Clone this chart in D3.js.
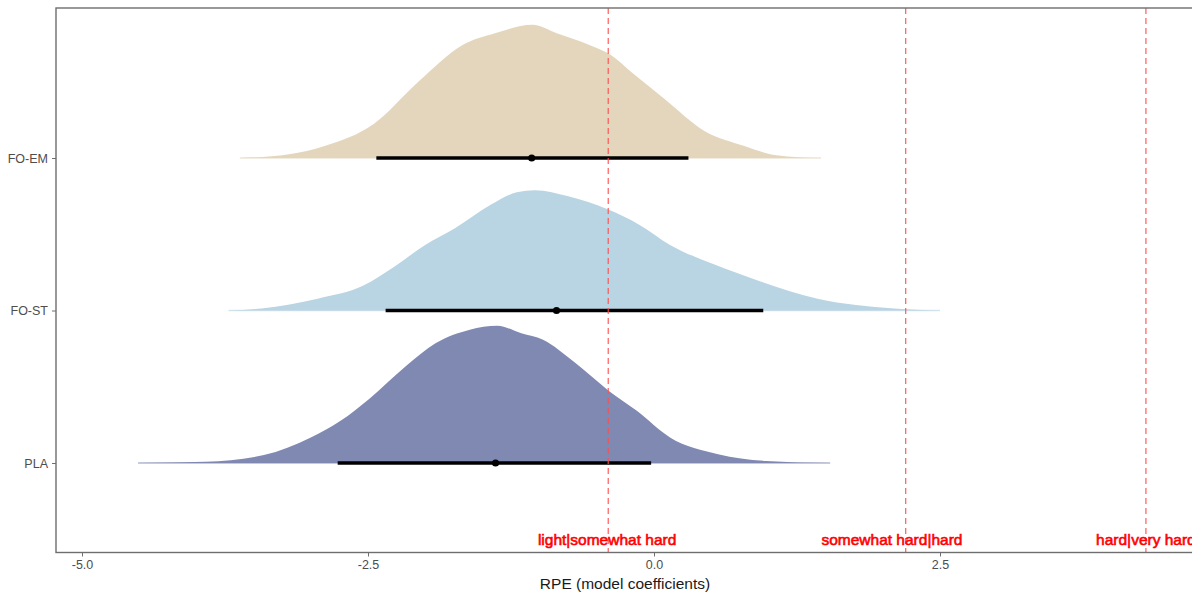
<!DOCTYPE html>
<html>
<head>
<meta charset="utf-8">
<script src="https://cdn.jsdelivr.net/npm/d3@7"></script>
<style>
  body { margin: 0; background: #fff; }
  svg { display: block; font-family: "Liberation Sans", Arial, sans-serif; }
</style>
</head>
<body>
<div id="vis"></div>
<script>
const frame_width = 1192;
const frame_height = 596;
const panel = {left: 56, right: 1194, top: 8, bottom: 552.5};

// groups, bottom to top
const groups = ["PLA", "FO-ST", "FO-EM"];
const fill_colors = ["#8089b1", "#b9d4e2", "#e3d6bc"];

// density outlines (x in model units, density scaled to max 1)
const pla_x = [-4.51, -3.92, -3.41, -3.0, -2.74, -2.49, -2.16, -1.91, -1.61, -1.37, -1.16, -0.97, -0.70, -0.40, -0.15, 0.14, 0.56, 0.98, 1.54];
const pla_d = [0, 0.009, 0.058, 0.186, 0.307, 0.467, 0.712, 0.872, 0.971, 1.0, 0.945, 0.898, 0.737, 0.529, 0.380, 0.186, 0.064, 0.015, 0];
const fost_x = [-3.72, -3.43, -2.94, -2.54, -2.27, -2.0, -1.74, -1.42, -1.2, -1.04, -0.75, -0.40, -0.13, 0.14, 0.54, 0.90, 1.43, 2.1, 2.5];
const fost_d = [0, 0.015, 0.086, 0.182, 0.319, 0.478, 0.599, 0.774, 0.861, 0.876, 0.832, 0.735, 0.625, 0.478, 0.331, 0.221, 0.086, 0.015, 0];
const foem_x = [-3.62, -3.19, -2.88, -2.45, -2.06, -1.67, -1.39, -1.06, -0.85, -0.57, -0.38, -0.18, 0.09, 0.44, 0.79, 1.07, 1.46];
const foem_d = [0, 0.027, 0.088, 0.248, 0.555, 0.825, 0.909, 0.971, 0.909, 0.825, 0.752, 0.613, 0.431, 0.197, 0.088, 0.020, 0];

// point estimate and interval per group
const point_est = [-1.385, -0.852, -1.069];
const lower_ci = [-2.765, -2.346, -2.427];
const upper_ci = [-0.025, 0.955, 0.301];

// RPE thresholds
const thresholds = [-0.40, 2.20, 4.30];
const threshold_labels = ["light|somewhat hard", "somewhat hard|hard", "hard|very hard"];
const label_pos = [-0.41, 2.08, 4.30];

const x_ticks = [-5.0, -2.5, 0.0, 2.5];
const x_tick_labels = ["-5.0", "-2.5", "0.0", "2.5"];

const densities = [
  {x: pla_x, d: pla_d},
  {x: fost_x, d: fost_d},
  {x: foem_x, d: foem_d}
];

const svg = d3.select("#vis")
  .append("svg")
    .attr("width", frame_width)
    .attr("height", frame_height);

const x_scale = d3.scaleLinear()
  .domain([-5, 2.5])
  .range([82, 940]);

// groups sit on 1, 2, 3
const y_scale = d3.scaleLinear()
  .domain([1, 3])
  .range([463, 158]);

const slab_scale = 0.9;

const area = d3.area()
  .x(d => x_scale(d[0]))
  .y0(d => y_scale(d[2]))
  .y1(d => y_scale(d[2] + d[1] * slab_scale))
  .curve(d3.curveMonotoneX);

densities.forEach((dens, i) => {
  const pts = dens.x.map((v, j) => [v, dens.d[j], i + 1]);
  svg.append("path")
    .datum(pts)
    .attr("d", area)
    .attr("fill", fill_colors[i]);
  // thin outline along the baseline
  svg.append("line")
    .attr("x1", x_scale(dens.x[0]))
    .attr("x2", x_scale(dens.x[dens.x.length - 1]))
    .attr("y1", y_scale(i + 1))
    .attr("y2", y_scale(i + 1))
    .attr("stroke", fill_colors[i])
    .attr("stroke-opacity", 0.6)
    .attr("stroke-width", 1.5);
});

// intervals
svg.selectAll(".ci")
  .data(groups)
  .enter()
  .append("line")
    .attr("class", "ci")
    .attr("x1", (d, i) => x_scale(lower_ci[i]))
    .attr("x2", (d, i) => x_scale(upper_ci[i]))
    .attr("y1", (d, i) => y_scale(i + 1))
    .attr("y2", (d, i) => y_scale(i + 1))
    .attr("stroke", "black")
    .attr("stroke-width", 3.6);

svg.selectAll(".pt")
  .data(groups)
  .enter()
  .append("circle")
    .attr("class", "pt")
    .attr("cx", (d, i) => x_scale(point_est[i]))
    .attr("cy", (d, i) => y_scale(i + 1))
    .attr("r", 3.6)
    .attr("fill", "black");

// threshold lines
svg.selectAll(".thr")
  .data(thresholds)
  .enter()
  .append("line")
    .attr("class", "thr")
    .attr("x1", d => x_scale(d))
    .attr("x2", d => x_scale(d))
    .attr("y1", panel.top)
    .attr("y2", panel.bottom)
    .attr("stroke", "#ff4d4d")
    .attr("stroke-opacity", 0.85)
    .attr("stroke-width", 1.3)
    .attr("stroke-dasharray", "6,4");

svg.selectAll(".thr-label")
  .data(threshold_labels)
  .enter()
  .append("text")
    .attr("class", "thr-label")
    .attr("x", (d, i) => x_scale(label_pos[i]))
    .attr("y", 545)
    .attr("text-anchor", "middle")
    .attr("font-size", "15.5px")
    .attr("fill", "#ff0000")
    .attr("stroke", "#ff0000")
    .attr("stroke-width", 0.6)
    .text(d => d);

// panel border
svg.append("rect")
  .attr("x", panel.left)
  .attr("y", panel.top)
  .attr("width", panel.right - panel.left)
  .attr("height", panel.bottom - panel.top)
  .attr("fill", "none")
  .attr("stroke", "#6e6e6e")
  .attr("stroke-width", 1.4);

// x axis
const x_axis = svg.append("g")
  .attr("transform", "translate(0," + panel.bottom + ")")
  .call(d3.axisBottom(x_scale)
    .tickValues(x_ticks)
    .tickFormat((d, i) => x_tick_labels[i])
    .tickSize(4)
    .tickPadding(4));
x_axis.select(".domain").remove();
x_axis.selectAll("line").attr("stroke", "#6e6e6e");
x_axis.selectAll("text")
  .attr("fill", "#4d4d4d")
  .attr("font-size", "12.5px")
  .attr("font-family", "Liberation Sans, Arial, sans-serif");

// y axis
const y_axis = svg.append("g")
  .attr("transform", "translate(" + panel.left + ",0)")
  .call(d3.axisLeft(y_scale)
    .tickValues([1, 2, 3])
    .tickFormat((d, i) => groups[i])
    .tickSize(4)
    .tickPadding(4));
y_axis.select(".domain").remove();
y_axis.selectAll("line").attr("stroke", "#6e6e6e");
y_axis.selectAll("text")
  .attr("fill", "#4d4d4d")
  .attr("font-size", "12.5px")
  .attr("font-family", "Liberation Sans, Arial, sans-serif");

svg.append("text")
  .attr("x", (panel.left + panel.right) / 2)
  .attr("y", 589)
  .attr("text-anchor", "middle")
  .attr("font-size", "15.5px")
  .attr("fill", "#1a1a1a")
  .text("RPE (model coefficients)");
</script>
</body>
</html>
